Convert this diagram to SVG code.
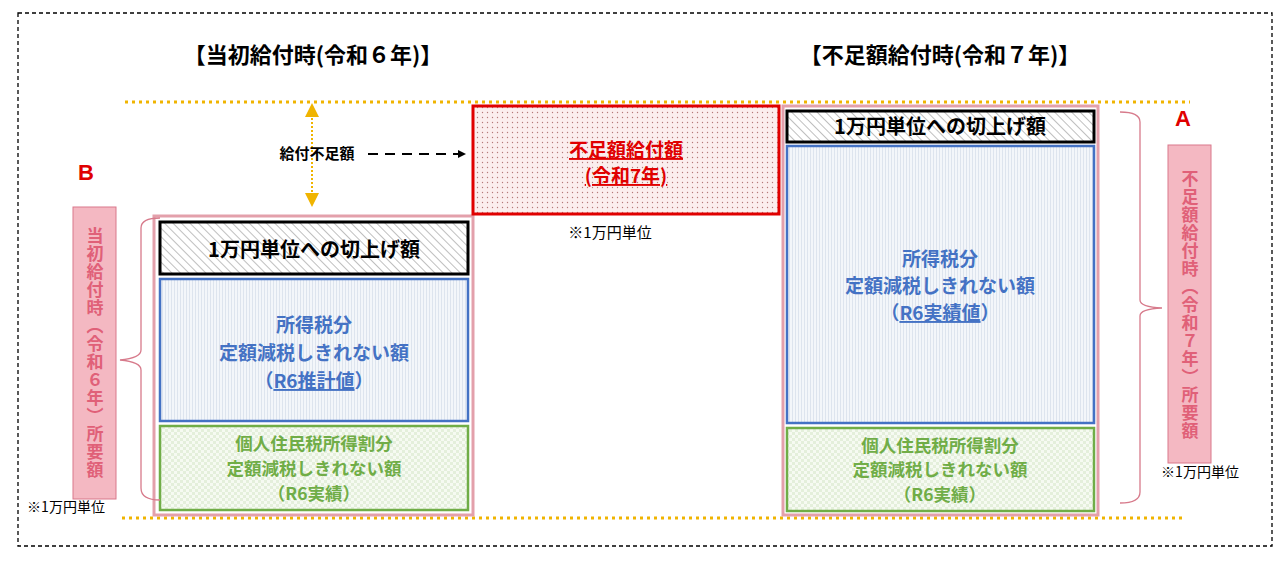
<svg xmlns="http://www.w3.org/2000/svg" width="1288" height="563" viewBox="0 0 1288 563">
<defs>
<pattern id="hatch" width="6" height="6" patternUnits="userSpaceOnUse" patternTransform="rotate(-45)"><rect width="6" height="6" fill="#fff"/><line x1="0" y1="0" x2="0" y2="6" stroke="#aaa" stroke-width="1.5"/></pattern>
<pattern id="vline" width="3" height="3" patternUnits="userSpaceOnUse"><rect width="3" height="3" fill="#f3f6fa"/><line x1="0.5" y1="0" x2="0.5" y2="3" stroke="#dde4ee" stroke-width="1"/></pattern>
<pattern id="check" width="6" height="6" patternUnits="userSpaceOnUse"><rect width="6" height="6" fill="#f6faf2"/><rect width="3" height="3" fill="#e4efdb"/><rect x="3" y="3" width="3" height="3" fill="#e4efdb"/></pattern>
<pattern id="dots" width="5" height="5" patternUnits="userSpaceOnUse"><rect width="5" height="5" fill="#fbeeee"/><circle cx="2.5" cy="2.5" r="0.7" fill="#b57a7a"/></pattern>
<marker id="ah" markerWidth="8" markerHeight="8" refX="7" refY="4" orient="auto" markerUnits="userSpaceOnUse"><path d="M0,0 L8,4 L0,8 Z" fill="#000"/></marker>
</defs>
<style>
text{font-family:"Noto Sans CJK JP","Liberation Sans",sans-serif;font-weight:bold;text-anchor:middle}
.t{font-size:22px;fill:#000}
.blk{font-size:20px;fill:#000}
.blu{font-size:19px;fill:#4472c4}
.grn{font-size:17.5px;fill:#70ad47}
.note{font-size:14px;font-weight:normal;fill:#000}
.vt{font-size:17px;fill:#e06078;writing-mode:vertical-rl;letter-spacing:1px}
.ltr{font-size:22px;fill:#e00000;font-family:"Liberation Sans",sans-serif}
.pink{fill:none;stroke:#e3a0ab;stroke-width:3}
.brace{fill:none;stroke:#d77a8b;stroke-width:1.3}
.vbox{fill:#f4b8c2;stroke:#d9788b;stroke-width:1}
</style>
<rect x="18" y="13" width="1254" height="533" fill="none" stroke="#000" stroke-width="1.3" stroke-dasharray="4,3"/>
<line x1="125" y1="102" x2="1190" y2="102" stroke="#f0b400" stroke-width="3" stroke-dasharray="3,4"/>
<line x1="122" y1="518" x2="1186" y2="518" stroke="#f0b400" stroke-width="3" stroke-dasharray="3,4"/>
<text class="t" x="313" y="63">【当初給付時(令和６年)】</text>
<text class="t" x="940" y="63">【不足額給付時(令和７年)】</text>
<g id="left">
<rect class="pink" x="154" y="216" width="319" height="299"/>
<rect x="160" y="222" width="308" height="52" fill="url(#hatch)" stroke="#000" stroke-width="3"/>
<text class="blk" x="314" y="257">1万円単位への切上げ額</text>
<rect x="160" y="279" width="308" height="142" fill="url(#vline)" stroke="#4472c4" stroke-width="2.5"/>
<text class="blu" x="314" y="332">所得税分</text>
<text class="blu" x="314" y="360">定額減税しきれない額</text>
<text class="blu" x="314" y="388">（<tspan text-decoration="underline">R6推計値</tspan>）</text>
<rect x="160" y="426" width="308" height="84" fill="url(#check)" stroke="#70ad47" stroke-width="2.5"/>
<text class="grn" x="314" y="450">個人住民税所得割分</text>
<text class="grn" x="314" y="475">定額減税しきれない額</text>
<text class="grn" x="314" y="500">（R6実績）</text>
</g>
<g id="shortfall">
<rect x="473" y="106" width="306" height="108" fill="url(#dots)" stroke="#e00000" stroke-width="3"/>
<text x="626" y="157" style="font-size:19px;fill:#e00000;text-decoration:underline">不足額給付額</text>
<text x="626" y="183" style="font-size:19px;fill:#e00000;text-decoration:underline">(令和7年)</text>
<text class="note" x="610" y="238" style="font-size:15px">※1万円単位</text>
</g>
<g id="right">
<rect class="pink" x="783" y="106" width="315" height="409"/>
<rect x="787" y="111" width="307" height="31" fill="url(#hatch)" stroke="#000" stroke-width="3"/>
<text class="blk" x="940" y="134">1万円単位への切上げ額</text>
<rect x="787" y="146" width="307" height="277" fill="url(#vline)" stroke="#4472c4" stroke-width="2.5"/>
<text class="blu" x="940" y="266">所得税分</text>
<text class="blu" x="940" y="293">定額減税しきれない額</text>
<text class="blu" x="940" y="320">（<tspan text-decoration="underline">R6実績値</tspan>）</text>
<rect x="787" y="428" width="307" height="83" fill="url(#check)" stroke="#70ad47" stroke-width="2.5"/>
<text class="grn" x="940" y="452">個人住民税所得割分</text>
<text class="grn" x="940" y="476">定額減税しきれない額</text>
<text class="grn" x="940" y="501">（R6実績）</text>
</g>
<g id="B">
<text class="ltr" x="86" y="180">B</text>
<rect class="vbox" x="73" y="207" width="43" height="292"/>
<text class="vt" x="95" y="353">当初給付時（令和６年）所要額</text>
<text class="note" x="66" y="512">※1万円単位</text>
</g>
<g id="A">
<text class="ltr" x="1183" y="126">A</text>
<rect class="vbox" x="1168" y="145" width="43" height="318"/>
<text class="vt" x="1190" y="305">不足額給付時（令和７年）所要額</text>
<text class="note" x="1200" y="477">※1万円単位</text>
</g>
<g id="connectors">
<path class="brace" d="M160,218 Q141,218 141,228 L141,350 Q141,358 120,360 Q141,362 141,370 L141,488 Q141,500 160,500"/>
<path class="brace" d="M1120,112 Q1140,112 1140,122 L1140,300 Q1140,307 1162,308 Q1140,309 1140,316 L1140,492 Q1140,503 1120,503"/>
<line x1="312" y1="118" x2="312" y2="192" stroke="#f0b400" stroke-width="2" stroke-dasharray="2,2"/>
<path d="M305,117 L312,103 L319,117 Z M305,193 L312,207 L319,193 Z" fill="#f0b400"/>
<text x="317" y="159" style="font-size:15px;fill:#000">給付不足額</text>
<line x1="368" y1="154" x2="465" y2="154" stroke="#000" stroke-width="2" stroke-dasharray="10,7" marker-end="url(#ah)"/>
</g>
</svg>
